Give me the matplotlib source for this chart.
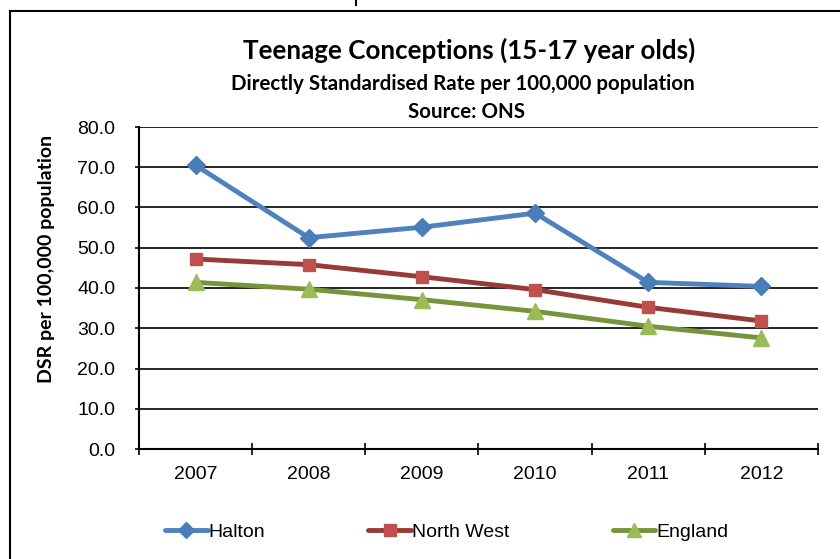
import numpy as np
import matplotlib.pyplot as plt
from matplotlib.patches import Rectangle
from matplotlib.lines import Line2D

years = ['2007', '2008', '2009', '2010', '2011', '2012']
halton = [70.5, 52.5, 55.1, 58.6, 41.4, 40.4]
north_west = [47.2, 45.8, 42.8, 39.6, 35.2, 31.8]
england = [41.4, 39.7, 37.1, 34.2, 30.5, 27.6]

fig = plt.figure(figsize=(8.4, 5.59), dpi=100)
ax = fig.add_axes([139/840, 1 - 449/559, (818 - 139)/840, (449 - 127)/559])

x = np.arange(len(years))
ax.plot(x, halton, color='#4F81BD', lw=3.5, marker='D', ms=9,
        mfc='#4A7EBB', mec='#4A7EBB', label='Halton', solid_capstyle='round')
ax.plot(x, north_west, color='#983A37', lw=3.5, marker='s', ms=9,
        mfc='#C0504D', mec='#C0504D', label='North West', solid_capstyle='round')
ax.plot(x, england, color='#77933C', lw=3.5, marker='^', ms=11,
        mfc='#9BBB59', mec='#9BBB59', label='England', solid_capstyle='round')

ax.set_xlim(-0.5, 5.5)
ax.set_ylim(0, 80)
ax.set_yticks(np.arange(0, 81, 10))
ax.set_yticklabels(['%.1f' % v for v in np.arange(0, 81, 10)],
                   fontsize=14, family='Liberation Sans')
ax.set_xticks(x)
ax.set_xticklabels(years, fontsize=14, family='Liberation Sans')
ax.set_xticks(np.arange(-0.5, 5.6, 1), minor=True)
ax.tick_params(axis='x', which='major', length=0, pad=12)
ax.tick_params(axis='x', which='minor', length=9, width=1.2, direction='inout')
ax.tick_params(axis='y', length=3, width=1.2, pad=14)
ax.grid(axis='y', color='black', lw=1.2)
ax.set_axisbelow(True)
for s in ['top', 'right']:
    ax.spines[s].set_visible(False)
for s in ['left', 'bottom']:
    ax.spines[s].set_linewidth(1.5)

fig.text(47/840, 1 - 259/559, 'DSR per 100,000 population', rotation=90,
         ha='center', va='center', fontsize=14, fontweight='bold', family='Lato')

fig.text(469/840, 1 - 50/559, 'Teenage Conceptions (15-17 year olds)',
         ha='center', va='center', fontsize=18.7, fontweight='bold', family='Lato')
fig.text(463/840, 1 - 84/559, 'Directly Standardised Rate per 100,000 population',
         ha='center', va='center', fontsize=14.8, fontweight='bold', family='Lato')
fig.text(467/840, 1 - 112/559, 'Source: ONS',
         ha='center', va='center', fontsize=14.8, fontweight='bold', family='Lato')

fig.legend(loc='center left', bbox_to_anchor=(165/840, 1 - 532/559), ncol=3,
           frameon=False, prop={'family': 'Liberation Sans', 'size': 14},
           handlelength=2.2, handletextpad=0.05, columnspacing=5.3,
           borderpad=0, borderaxespad=0, markerscale=0.9)

# chart border and the clipped glyph at the top
fig.add_artist(Rectangle((10/840, -0.1), 2, 1 - 11/559 + 0.1, transform=fig.transFigure,
                         fill=False, ec='black', lw=1.5))
fig.add_artist(Line2D([356/840, 356/840], [1, 1 - 5/559], transform=fig.transFigure,
                      color='black', lw=1.5))

fig.savefig('out.png', dpi=100)
